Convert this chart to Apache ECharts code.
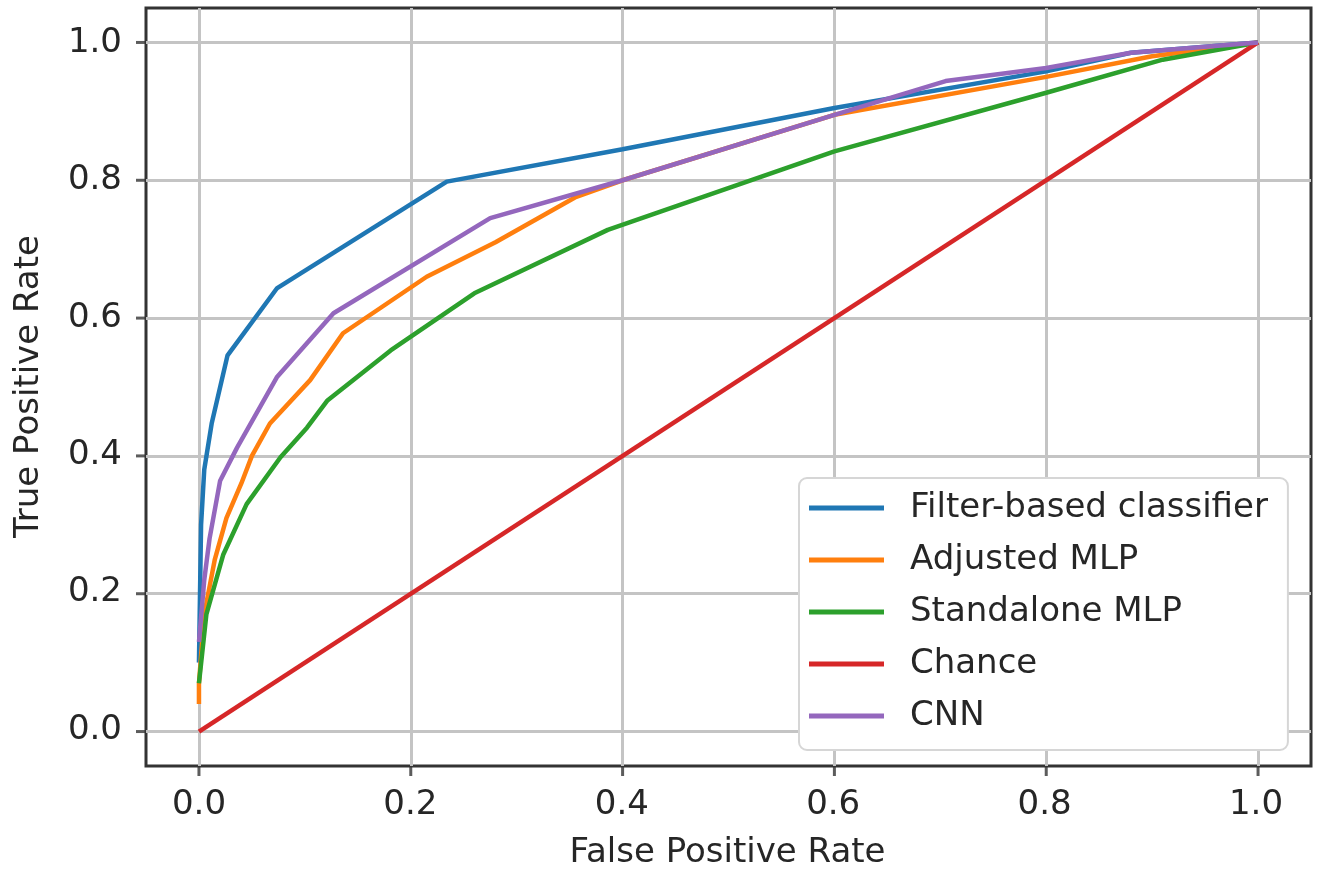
<!DOCTYPE html>
<html>
<head>
<meta charset="utf-8">
<title>ROC</title>
<script src="https://cdn.jsdelivr.net/npm/echarts@6/dist/echarts.min.js"></script>
<style>
    html, body { margin: 0; padding: 0; background: #fff; }
    #chart { width: 1321px; height: 877px; }
</style>
</head>
<body>
<div id="chart"></div>
<script>
// values
var seriesNames = ['Filter-based classifier', 'Adjusted MLP', 'Standalone MLP', 'Chance', 'CNN'];
var seriesColors = ['#1f77b4', '#ff7f0e', '#2ca02c', '#d62728', '#9467bd'];
var tickValues = [0, 0.2, 0.4, 0.6, 0.8, 1.0];

var filterFpr = [0, 0.002, 0.005, 0.012, 0.027, 0.0735, 0.234, 0.4, 0.6, 0.8, 0.88, 1];
var filterTpr = [0.10, 0.30, 0.38, 0.447, 0.546, 0.643, 0.798, 0.845, 0.905, 0.958, 0.985, 1];

var adjustedFpr = [0, 0, 0.005, 0.015, 0.026, 0.04, 0.05, 0.067, 0.105, 0.136, 0.215, 0.28, 0.355, 0.4, 0.6, 0.8, 0.9, 1];
var adjustedTpr = [0.04, 0.07, 0.17, 0.25, 0.31, 0.36, 0.40, 0.447, 0.51, 0.578, 0.66, 0.71, 0.775, 0.80, 0.895, 0.95, 0.98, 1];

var standaloneFpr = [0, 0.007, 0.023, 0.045, 0.077, 0.102, 0.121, 0.181, 0.26, 0.386, 0.6, 0.8, 0.91, 1];
var standaloneTpr = [0.07, 0.17, 0.257, 0.33, 0.398, 0.441, 0.48, 0.553, 0.636, 0.728, 0.842, 0.927, 0.975, 1];

var chanceFpr = [0, 1];
var chanceTpr = [0, 1];

var cnnFpr = [0, 0.005, 0.01, 0.02, 0.036, 0.0735, 0.127, 0.275, 0.4, 0.6, 0.705, 0.8, 0.88, 1];
var cnnTpr = [0.13, 0.22, 0.28, 0.364, 0.412, 0.514, 0.607, 0.745, 0.80, 0.895, 0.944, 0.963, 0.985, 1];

var axisMin = -0.05;
var axisMax = 1.05;

function zip(xs, ys) {
    var out = [];
    for (var i = 0; i < xs.length; i++) {
        out.push([xs[i], ys[i]]);
    }
    return out;
}

var curves = [
    zip(filterFpr, filterTpr),
    zip(adjustedFpr, adjustedTpr),
    zip(standaloneFpr, standaloneTpr),
    zip(chanceFpr, chanceTpr),
    zip(cnnFpr, cnnTpr)
];

var fontFamily = 'DejaVu Sans';
var textColor = '#262626';

var series = [];
for (var i = 0; i < seriesNames.length; i++) {
    series.push({
        name: seriesNames[i],
        type: 'line',
        xAxisIndex: 0,
        yAxisIndex: 0,
        data: curves[i],
        showSymbol: false,
        symbol: 'none',
        smooth: false,
        lineStyle: { width: 4.5, color: seriesColors[i] },
        itemStyle: { color: seriesColors[i] }
    });
}

// tick marks on the frame (axisTick does not show up here, so draw them as small rects)
var xTickMarks = [];
var yTickMarks = [];
for (var k = 0; k < tickValues.length; k++) {
    xTickMarks.push([tickValues[k], axisMin]);
    yTickMarks.push([axisMin, tickValues[k]]);
}
series.push({
    name: 'xticks',
    type: 'scatter',
    data: xTickMarks,
    symbol: 'rect',
    symbolSize: [3, 10],
    symbolOffset: [0, 5],
    clip: false,
    silent: true,
    z: 10,
    itemStyle: { color: '#333' }
});
series.push({
    name: 'yticks',
    type: 'scatter',
    data: yTickMarks,
    symbol: 'rect',
    symbolSize: [10, 3],
    symbolOffset: [-5, 0],
    clip: false,
    silent: true,
    z: 10,
    itemStyle: { color: '#333' }
});

// data axes: padded range like matplotlib, only the grid lines are drawn
function dataAxis() {
    return {
        type: 'value',
        gridIndex: 0,
        min: axisMin,
        max: axisMax,
        axisLine: { show: false, onZero: false },
        axisTick: { show: false, customValues: tickValues },
        axisLabel: { show: false, customValues: tickValues },
        splitLine: {
            show: true,
            lineStyle: { color: '#c4c4c4', width: 3 }
        }
    };
}

// label axes: 0..1 on an inner grid, pushed out to the frame with offset
function tickAxis(name, offset) {
    return {
        type: 'value',
        gridIndex: 1,
        min: 0,
        max: 1,
        interval: 0.2,
        offset: offset,
        name: name,
        nameLocation: 'middle',
        nameTextStyle: { fontFamily: fontFamily, fontSize: 34, color: textColor },
        axisLine: { show: false, onZero: false },
        axisTick: { show: false },
        axisLabel: {
            fontFamily: fontFamily,
            fontSize: 34,
            color: textColor,
            formatter: function (v) { return v.toFixed(1); }
        },
        splitLine: { show: false }
    };
}

var xTicks = tickAxis('False Positive Rate', 36);
xTicks.nameGap = 70;
xTicks.axisLabel.margin = 22;

var yTicks = tickAxis('True Positive Rate', 53);
yTicks.nameGap = 100;
yTicks.nameRotate = 90;
yTicks.axisLabel.margin = 24;

var myChart = echarts.init(document.getElementById('chart'), null, { renderer: 'canvas' });
var option = {
    backgroundColor: '#fff',
    animation: false,
    grid: [{
        show: true,
        left: 146,
        right: 10,
        top: 8,
        bottom: 111,
        containLabel: false,
        borderColor: '#333',
        borderWidth: 3,
        backgroundColor: '#fff'
    }, {
        show: false,
        left: 199,
        right: 65,
        top: 43,
        bottom: 147,
        containLabel: false
    }],
    legend: {
        orient: 'vertical',
        left: 799,
        top: 478,
        padding: [13, 20, 17, 10],
        itemGap: 18,
        itemWidth: 75,
        itemHeight: 5,
        icon: 'rect',
        backgroundColor: '#fff',
        borderColor: '#d6d6d6',
        borderWidth: 2,
        borderRadius: 8,
        textStyle: {
            fontFamily: fontFamily,
            fontSize: 34,
            color: textColor,
            padding: [0, 0, 0, 21]
        },
        data: seriesNames
    },
    xAxis: [dataAxis(), xTicks],
    yAxis: [dataAxis(), yTicks],
    series: series,
    color: seriesColors
};
myChart.setOption(option);
window.onresize = myChart.resize;
</script>
</body>
</html>
